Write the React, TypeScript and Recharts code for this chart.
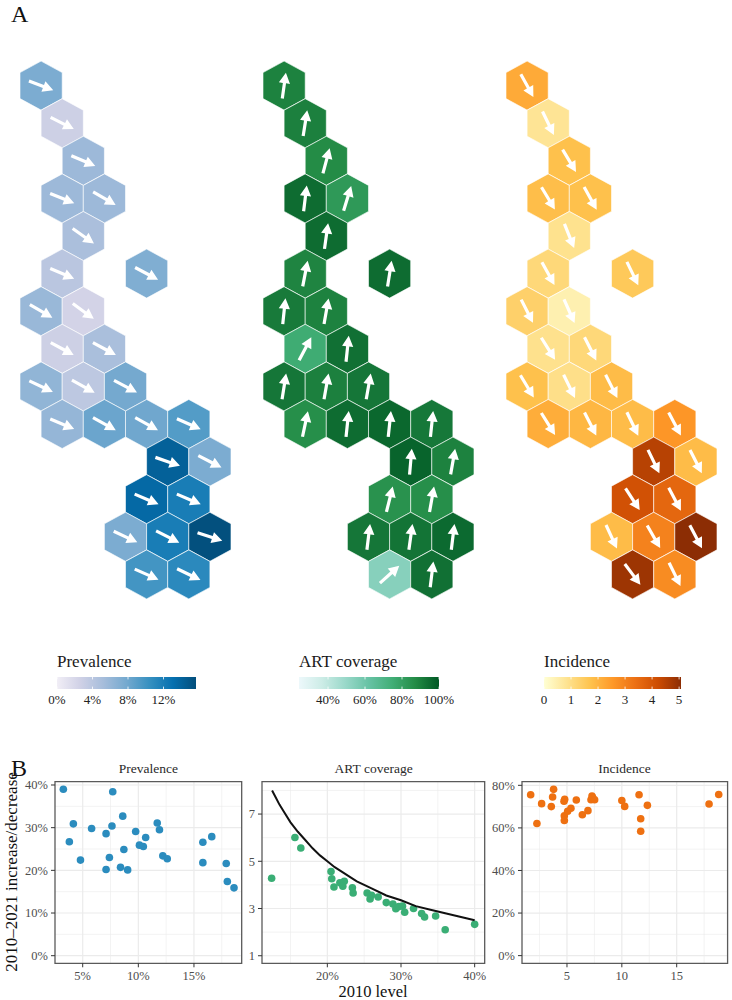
import React from "react";
import {
  CartesianGrid,
  ReferenceArea,
  ReferenceLine,
  Scatter,
  ScatterChart,
  XAxis,
  YAxis,
} from "recharts";

// Hex tile layout: half-column and row index of each of the 28 tiles.
const hexCols = [0, 1, 2, 1, 3, 2, 1, 5, 0, 2, 1, 3, 0, 2, 4, 1, 3, 5, 7, 6, 8, 5, 7, 4, 6, 8, 5, 7];
const hexRows = [0, 1, 2, 3, 3, 4, 5, 5, 6, 6, 7, 7, 8, 8, 8, 9, 9, 9, 9, 10, 10, 11, 11, 12, 12, 12, 13, 13];

const prevalenceValues = [7.4, 2.8, 5.7, 5.7, 5.7, 4.9, 4.0, 7.2, 5.9, 2.4, 2.8, 5.0, 6.3, 3.8, 7.8, 6.1, 8.2, 8.0, 9.2, 14.2, 7.4, 13.6, 12.0, 7.4, 12.0, 15.5, 9.9, 11.0];
const artValues = [89.5, 90, 87, 95, 82.5, 95, 89, 95, 91.5, 89.5, 75.5, 94, 92.5, 90, 92.5, 86, 95, 96, 92, 97, 89.5, 85, 86, 92.5, 93, 95.5, 54, 94];
const incidenceValues = [2.2, 0.8, 1.75, 1.8, 1.75, 0.88, 1.15, 1.55, 1.35, 0.45, 0.9, 1.15, 1.75, 0.95, 1.85, 2.15, 1.95, 1.85, 2.6, 4.5, 1.85, 4.1, 3.6, 1.85, 3.0, 5.07, 4.85, 2.8];

// arrow direction, degrees clockwise from east
const prevalenceTurns = [21, 27, 23, 22, 30, 35, 23, 28, 30, 36, 28, 28, 25, 29, 28, 23, 29, 29, 24, 19, 27, 23, 23, 25, 27, 18, 24, 26];
const artTurns = [-82, -81, -75, -83, -73, -82, -79, -81, -84, -80, -62, -84, -81, -80, -80, -78, -84, -84, -84, -85, -80, -76, -80, -83, -82, -83, -42, -83];
const incidenceTurns = [61, 64, 59, 59, 61, 68, 61, 64, 63, 66, 58, 63, 59, 64, 63, 58, 63, 64, 62, 64, 63, 57, 62, 65, 60, 62, 53, 64];

const PUBU = ["#f1eef6", "#d0d1e6", "#a6bddb", "#74a9cf", "#3690c0", "#0570b0", "#034e7b"];
const BUGN = ["#edf8fb", "#ccece6", "#99d8c9", "#66c2a4", "#41ae76", "#238b45", "#005824"];
const YLORBR = ["#ffffd4", "#fee391", "#fec44f", "#fe9929", "#ec7014", "#cc4c02", "#8c2d04"];

// Scatter panels
const prevalenceX = [3.26, 7.7, 8.6, 4.16, 5.8, 7.63, 7.1, 3.8, 4.8, 8.7, 7.4, 7.1, 8.4, 9.04, 9.76, 10.1, 10.45, 10.66, 11.7, 11.9, 12.2, 12.6, 15.8, 16.6, 15.8, 17.9, 18.0, 18.6];
const prevalenceY = [39.0, 38.4, 32.7, 30.9, 29.8, 30.4, 28.6, 26.7, 22.4, 24.9, 23.0, 20.2, 20.7, 20.1, 29.1, 25.9, 25.6, 27.7, 31.1, 29.5, 23.4, 22.7, 26.6, 27.9, 21.8, 21.6, 17.4, 15.9];
const artX = [12.44, 15.6, 16.4, 20.5, 20.6, 20.9, 21.7, 22.3, 22.1, 23.4, 23.5, 25.4, 26.0, 25.8, 26.9, 28.0, 28.9, 29.3, 29.7, 30.2, 30.5, 31.7, 32.8, 33.2, 34.7, 36.0, 40.0];
const artY = [4.28, 6.01, 5.56, 4.57, 4.26, 3.91, 4.09, 4.15, 3.94, 3.88, 3.66, 3.66, 3.56, 3.4, 3.49, 3.25, 3.19, 2.99, 3.08, 3.1, 2.84, 3.0, 2.79, 2.64, 2.68, 2.1, 2.33];
const curveX = [12.5, 13, 13.5, 14, 15, 16, 17, 18, 19, 20, 21, 22, 23, 24, 26, 28, 30, 32, 34, 36, 38, 40];
const curveY = [8.0, 7.7, 7.4, 7.15, 6.65, 6.25, 5.9, 5.55, 5.25, 5.0, 4.75, 4.55, 4.35, 4.15, 3.85, 3.55, 3.35, 3.1, 2.95, 2.8, 2.65, 2.5];
const incidenceX = [1.69, 2.69, 2.26, 3.57, 3.69, 3.78, 4.79, 4.73, 4.76, 4.76, 5.06, 5.36, 5.85, 6.4, 6.91, 7.28, 7.19, 7.34, 7.52, 10.0, 10.26, 11.57, 11.72, 11.72, 12.33, 17.95, 18.83];
const incidenceY = [75.6, 71.4, 62.1, 70.0, 74.5, 78.1, 73.4, 72.5, 65.7, 63.5, 67.8, 69.2, 73.1, 66.2, 68.1, 75.0, 73.2, 74.2, 73.2, 72.9, 70.1, 75.6, 64.3, 58.4, 70.6, 71.2, 75.7];

const FONT = "'Liberation Serif', serif";
const TICK = "#4d4d4d";
const GRID = "#ebebeb";
const BORDER = "#5a5a5a";

function mix(colors: string[], t: number) {
  const pos = Math.min(Math.max(t, 0), 1) * (colors.length - 1);
  const i = Math.min(Math.floor(pos), colors.length - 2);
  const f = pos - i;
  const rgb = (h: string) => [1, 3, 5].map((k) => parseInt(h.slice(k, k + 2), 16));
  const a = rgb(colors[i]);
  const b = rgb(colors[i + 1]);
  return `rgb(${a.map((v, k) => Math.round(v + (b[k] - v) * f)).join(",")})`;
}

function HexTile(props: any) {
  const { cx, cy, payload } = props;
  if (cx == null) return null;
  const pts = [
    [0, -24.5],
    [21.1, -13],
    [21.1, 13],
    [0, 24.5],
    [-21.1, 13],
    [-21.1, -13],
  ]
    .map(([a, b]) => `${cx + a},${cy + b}`)
    .join(" ");
  return (
    <g>
      <polygon points={pts} fill={payload.color} stroke="#fff" strokeWidth={0.6} />
      <g transform={`translate(${cx} ${cy}) rotate(${payload.turn})`}>
        <path d="M-13 -1.6L2.5 -1.6L2.5 -5.6L13 0L2.5 5.6L2.5 1.6L-13 1.6Z" fill="#fff" />
      </g>
    </g>
  );
}

function HexMap({ left, values, turns, colors, min, max }: any) {
  const tiles = hexCols.map((col, i) => ({
    col,
    row: hexRows[i],
    turn: turns[i],
    color: mix(colors, (values[i] - min) / (max - min)),
  }));
  return (
    <div style={{ position: "absolute", left, top: 48.4 }}>
      <ScatterChart width={232.1} height={564} margin={{ top: 0, right: 0, bottom: 0, left: 0 }}>
        <XAxis type="number" dataKey="col" domain={[-1, 10]} hide />
        <YAxis type="number" dataKey="row" domain={[-1, 14]} reversed hide />
        <Scatter data={tiles} shape={HexTile} isAnimationActive={false} />
      </ScatterChart>
    </div>
  );
}

const NoDot = () => <g />;

function ColorBar({ id, title, left, width, min, max, ticks, format, colors }: any) {
  const pad = 30;
  return (
    <>
      <div style={{ position: "absolute", left, top: 652, fontFamily: FONT, fontSize: 17, color: "#1a1a1a", lineHeight: "20px" }}>
        {title}
      </div>
      <div style={{ position: "absolute", left: left - pad, top: 677 }}>
        <ScatterChart width={width + 2 * pad} height={36} margin={{ top: 0, right: pad, bottom: 0, left: pad }}>
          <defs>
            <linearGradient id={id} x1="0" y1="0" x2="1" y2="0">
              {colors.map((c: string, i: number) => (
                <stop key={c} offset={`${(i / (colors.length - 1)) * 100}%`} stopColor={c} />
              ))}
            </linearGradient>
          </defs>
          <XAxis
            type="number"
            dataKey="x"
            domain={[min, max]}
            ticks={ticks}
            interval={0}
            tickFormatter={format}
            axisLine={false}
            tickLine={false}
            tickSize={2}
            tickMargin={4}
            height={24}
            tick={{ fontSize: 13, fill: "#222", fontFamily: FONT }}
          />
          <YAxis type="number" dataKey="y" domain={[0, 1]} hide />
          <ReferenceArea x1={min} x2={max} y1={0} y2={1} fill={`url(#${id})`} fillOpacity={1} stroke="none" />
          {ticks.map((t: number) => (
            <ReferenceLine key={`a${t}`} segment={[{ x: t, y: 0 }, { x: t, y: 0.2 }]} stroke="#fff" strokeWidth={0.8} />
          ))}
          {ticks.map((t: number) => (
            <ReferenceLine key={`b${t}`} segment={[{ x: t, y: 0.8 }, { x: t, y: 1 }]} stroke="#fff" strokeWidth={0.8} />
          ))}
          <Scatter data={ticks.map((x: number) => ({ x, y: 0 }))} shape={NoDot} isAnimationActive={false} />
        </ScatterChart>
      </div>
    </>
  );
}

function Dot(color: string) {
  return (p: any) => (p.cx == null ? null : <circle cx={p.cx} cy={p.cy} r={3.8} fill={color} />);
}

const axisTick = { fontSize: 12.5, fill: TICK, fontFamily: FONT };

function Panel({ title, plotLeft, plotRight, xDomain, yDomain, xTicks, yTicks, xMinor, yMinor, xFormat, yFormat, xs, ys, color, curve }: any) {
  const yAxisWidth = 40;
  const top = 776;
  const plotTop = 781.7;
  const plotBottom = 963.3;
  const plotWidth = plotRight - plotLeft;
  const points = xs.map((x: number, i: number) => ({ x, y: ys[i] }));
  return (
    <>
      <div style={{ position: "absolute", left: plotLeft, width: plotWidth, top: 760, textAlign: "center", fontFamily: FONT, fontSize: 13.5, color: "#2a2a2a", lineHeight: "18px" }}>
        {title}
      </div>
      <div style={{ position: "absolute", left: plotLeft - yAxisWidth, top }}>
        <ScatterChart
          width={yAxisWidth + plotWidth + 4}
          height={plotBottom - top + 24}
          margin={{ top: plotTop - top, right: 4, bottom: 0, left: 0 }}
        >
          <CartesianGrid stroke={GRID} strokeWidth={0.6} horizontalValues={yMinor} verticalValues={xMinor} />
          <CartesianGrid stroke={GRID} strokeWidth={1.2} horizontalValues={yTicks} verticalValues={xTicks} />
          <XAxis
            type="number"
            dataKey="x"
            domain={xDomain}
            ticks={xTicks}
            interval={0}
            tickFormatter={xFormat}
            height={24}
            axisLine={false}
            tickSize={4}
            tickMargin={4}
            stroke="#333"
            tick={axisTick}
          />
          <YAxis
            type="number"
            dataKey="y"
            domain={yDomain}
            ticks={yTicks}
            interval={0}
            tickFormatter={yFormat}
            width={yAxisWidth}
            axisLine={false}
            tickSize={4}
            tickMargin={3}
            stroke="#333"
            tick={axisTick}
          />
          <Scatter data={points} shape={Dot(color)} isAnimationActive={false} />
          {curve && (
            <Scatter
              data={curve}
              line={{ stroke: "#111", strokeWidth: 2 }}
              lineType="joint"
              shape={NoDot}
              isAnimationActive={false}
            />
          )}
          <ReferenceArea x1={xDomain[0]} x2={xDomain[1]} y1={yDomain[0]} y2={yDomain[1]} fill="none" stroke={BORDER} strokeWidth={1.3} />
        </ScatterChart>
      </div>
    </>
  );
}

const pct = (v: number) => `${v}%`;
const plain = (v: number) => `${v}`;
const curve = curveX.map((x, i) => ({ x, y: curveY[i] }));

export default function App() {
  return (
    <div style={{ position: "absolute", left: 0, top: 0, width: 732, height: 1000, background: "#fff", overflow: "hidden" }}>
      <div style={{ position: "absolute", left: 11, top: 0, fontFamily: FONT, fontSize: 24, color: "#111", lineHeight: "28px" }}>A</div>
      <div style={{ position: "absolute", left: 11, top: 754, fontFamily: FONT, fontSize: 24, color: "#111", lineHeight: "28px" }}>B</div>

      <HexMap left={20.4} values={prevalenceValues} turns={prevalenceTurns} colors={PUBU} min={0} max={15.66} />
      <HexMap left={262.9} values={artValues} turns={artTurns} colors={BUGN} min={24.3} max={100} />
      <HexMap left={505.6} values={incidenceValues} turns={incidenceTurns} colors={YLORBR} min={0} max={5.07} />

      <ColorBar id="barPrev" title="Prevalence" left={57} width={139} min={0} max={15.66} ticks={[0, 4, 8, 12]} format={pct} colors={PUBU} />
      <ColorBar id="barArt" title="ART coverage" left={299} width={140} min={24.3} max={100} ticks={[40, 60, 80, 100]} format={pct} colors={BUGN} />
      <ColorBar id="barInc" title="Incidence" left={544} width={137} min={0} max={5.07} ticks={[0, 1, 2, 3, 4, 5]} format={plain} colors={YLORBR} />

      <Panel
        title="Prevalence"
        plotLeft={55}
        plotRight={241.7}
        xDomain={[2.51, 19.29]}
        yDomain={[-1.78, 40.77]}
        xTicks={[5, 10, 15]}
        yTicks={[0, 10, 20, 30, 40]}
        xMinor={[7.5, 12.5, 17.5]}
        yMinor={[5, 15, 25, 35]}
        xFormat={pct}
        yFormat={pct}
        xs={prevalenceX}
        ys={prevalenceY}
        color="#2b8cbe"
      />
      <Panel
        title="ART coverage"
        plotLeft={262.3}
        plotRight={485}
        xDomain={[11.13, 41.36]}
        yDomain={[0.68, 8.37]}
        xTicks={[20, 30, 40]}
        yTicks={[1, 3, 5, 7]}
        xMinor={[15, 25, 35]}
        yMinor={[2, 4, 6, 8]}
        xFormat={pct}
        yFormat={plain}
        xs={artX}
        ys={artY}
        color="#3aae75"
        curve={curve}
      />
      <Panel
        title="Incidence"
        plotLeft={521.7}
        plotRight={727.3}
        xDomain={[0.9, 19.64]}
        yDomain={[-3.6, 81.7]}
        xTicks={[5, 10, 15]}
        yTicks={[0, 20, 40, 60, 80]}
        xMinor={[2.5, 7.5, 12.5, 17.5]}
        yMinor={[10, 30, 50, 70]}
        xFormat={plain}
        yFormat={pct}
        xs={incidenceX}
        ys={incidenceY}
        color="#ee7011"
      />

      <div style={{ position: "absolute", left: -88, width: 200, top: 862, height: 20, lineHeight: "20px", textAlign: "center", transform: "rotate(-90deg)", fontFamily: FONT, fontSize: 17, color: "#111", whiteSpace: "nowrap" }}>
        2010–2021 increase/decrease
      </div>
      <div style={{ position: "absolute", left: 273, width: 200, top: 984, height: 16, lineHeight: "16px", textAlign: "center", fontFamily: FONT, fontSize: 16.5, color: "#111" }}>
        2010 level
      </div>
    </div>
  );
}
